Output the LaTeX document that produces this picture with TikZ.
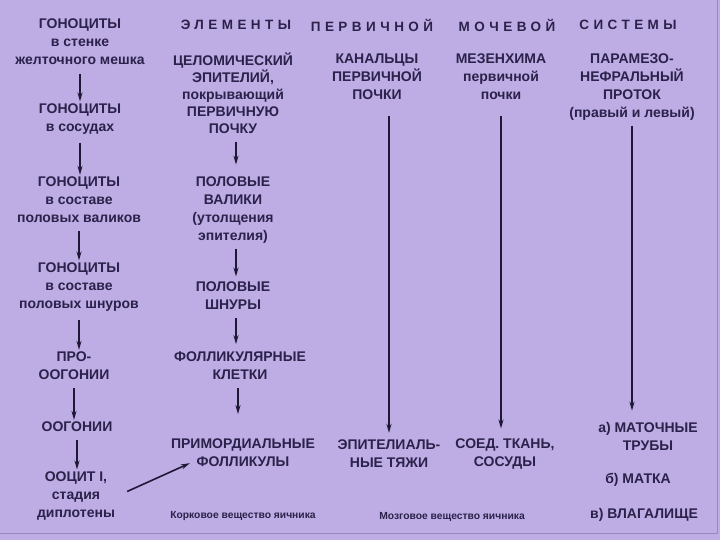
\documentclass[tikz,border=0pt]{standalone}
\usepackage{fontspec}
\setmainfont{Liberation Sans}
\newfontfamily\spacedfont[LetterSpace=33]{Liberation Sans}
\usetikzlibrary{arrows.meta}
\definecolor{lilac}{RGB}{190,172,228}
\definecolor{ink}{RGB}{42,34,74}
\definecolor{rim}{RGB}{150,136,192}
\begin{document}
\begin{tikzpicture}[x=1pt, y=-1pt,
  txt/.style={align=center,inner sep=2pt,text=ink,font=\fontsize{14}{18}\selectfont\bfseries},
  ttl/.style={text=ink,inner sep=0pt,font=\fontsize{13.5}{15}\selectfont\spacedfont\bfseries},
  note/.style={text=ink,inner sep=0pt,font=\fontsize{10.3}{12}\selectfont\bfseries},
  arr/.style={-{Stealth[length=9pt,width=5pt]},line width=1.6pt,ink!70!black}]
\fill[lilac] (0,0) rectangle (720,540);
\useasboundingbox (0,0) rectangle (720,540);
\draw[rim,line width=0.8pt] (0,533) -- (717,533) -- (717,0);
% title
\node[ttl] (t1) at (236,25) {ЭЛЕМЕНТЫ};
\node[ttl] (t2) at (372,25) {ПЕРВИЧНОЙ};
\node[ttl] (t3) at (507,25) {МОЧЕВОЙ};
\node[ttl] (t4) at (628,25) {СИСТЕМЫ};
% column 1: gonocytes
\node[txt] (g1) at (80,42) {ГОНОЦИТЫ\\в стенке\\желточного мешка};
\node[txt] (g2) at (80,119) {ГОНОЦИТЫ\\в сосудах};
\node[txt] (g3) at (79,200) {ГОНОЦИТЫ\\в составе\\половых валиков};
\node[txt] (g4) at (79,287) {ГОНОЦИТЫ\\в составе\\половых шнуров};
\node[txt] (pro) at (74,366) {ПРО-\\ООГОНИИ};
\node[txt] (oog) at (77,427) {ООГОНИИ};
\node[txt] (ooc) at (76,496) {ООЦИТ I,\\стадия\\диплотены};
\draw[arr,shorten <=7pt] (g1.south) -- (g1.south |- g2.north);
\draw[arr,shorten <=6pt] (g2.south) -- (g2.south |- g3.north);
\draw[arr,shorten <=6pt] (g3.south) -- (g3.south |- g4.north);
\draw[arr,shorten <=6pt] (g4.south) -- (g4.south |- pro.north);
\draw[arr,shorten <=6pt] (pro.south) -- (pro.south |- oog.north);
\draw[arr,shorten <=6pt] (oog.south) -- (oog.south |- ooc.north);
% column 2: coelomic epithelium
\node[txt,font=\fontsize{14}{17}\selectfont\bfseries] (cel) at (233,93) {ЦЕЛОМИЧЕСКИЙ\\ЭПИТЕЛИЙ,\\покрывающий\\ПЕРВИЧНУЮ\\ПОЧКУ};
\node[txt] (pv) at (233,210) {ПОЛОВЫЕ\\ВАЛИКИ\\(утолщения\\эпителия)};
\node[txt] (ps) at (233,296) {ПОЛОВЫЕ\\ШНУРЫ};
\node[txt] (fk) at (240,366) {ФОЛЛИКУЛЯРНЫЕ\\КЛЕТКИ};
\node[txt] (pf) at (243,453) {ПРИМОРДИАЛЬНЫЕ\\ФОЛЛИКУЛЫ};
\node[note] (kor) at (243,516) {Корковое вещество яичника};
\draw[arr,shorten <=6pt] (cel.south) ++(3,0) -- ++(0,29);
\draw[arr,shorten <=3pt] (pv.south) ++(3,0) -- ++(0,31);
\draw[arr,shorten <=6pt] (ps.south) ++(3,0) -- ++(0,32);
\draw[arr,shorten <=6pt] (fk.south) ++(-2,0) -- ++(0,32);
\draw[arr,shorten <=11pt] (ooc.east) -- ([xshift=21pt,yshift=6pt]pf.south west);
% column 3: tubules
\node[txt] (kan) at (377,77) {КАНАЛЬЦЫ\\ПЕРВИЧНОЙ\\ПОЧКИ};
\node[txt] (epi) at (389,454) {ЭПИТЕЛИАЛЬ-\\НЫЕ ТЯЖИ};
\draw[arr] ([yshift=-14pt]kan.south -| epi.north) -- ([yshift=5pt]epi.north);
% column 4: mesenchyme
\node[txt] (mez) at (501,77) {МЕЗЕНХИМА\\первичной\\почки};
\node[txt] (soed) at (505,454) {СОЕД. ТКАНЬ,\\СОСУДЫ};
\node[note] (moz) at (452,517) {Мозговое вещество яичника};
\draw[arr] ([yshift=-14pt]mez.south) -- ([yshift=8pt]mez.south |- soed.north);
% column 5: paramesonephric duct
\node[txt] (par) at (632,87) {ПАРАМЕЗО-\\НЕФРАЛЬНЫЙ\\ПРОТОК\\(правый и левый)};
\node[txt] (mat) at (648,436) {а) МАТОЧНЫЕ\\ТРУБЫ};
\node[txt] (mtk) at (638,480) {б) МАТКА};
\node[txt] (vlg) at (644,515) {в) ВЛАГАЛИЩЕ};
\draw[arr,shorten <=3pt] (par.south) -- ([yshift=9pt]par.south |- mat.north);
\end{tikzpicture}
\end{document}
